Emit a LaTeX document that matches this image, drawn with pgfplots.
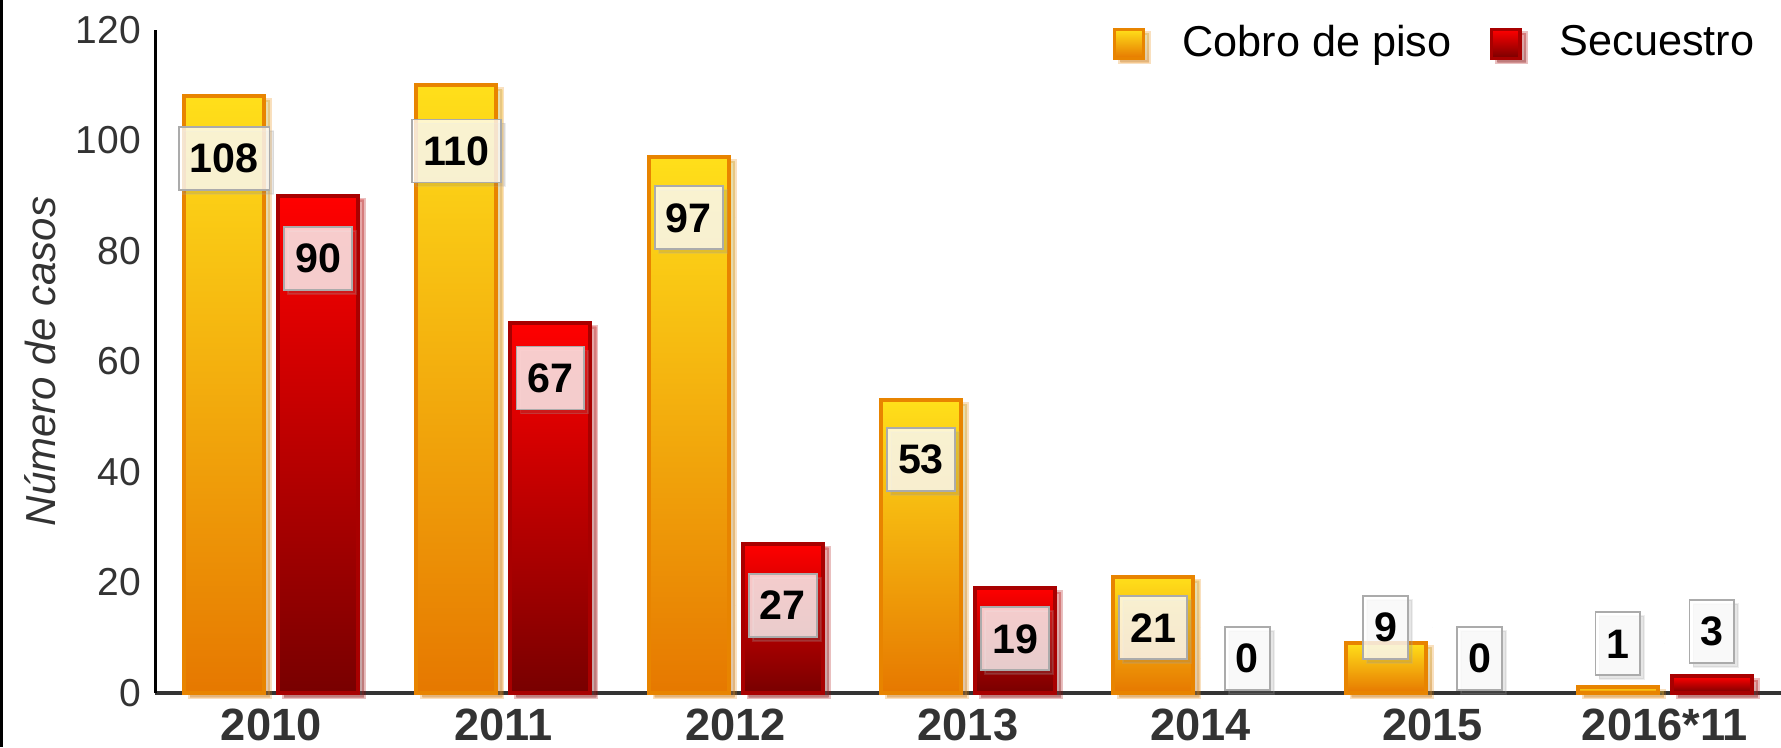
\documentclass[border=0pt]{standalone}
\usepackage{fontspec}
\setmainfont{Liberation Sans}
\usepackage{pgfplots}
\usepackage{pgfplotstable}
\pgfplotsset{compat=1.18}
\usetikzlibrary{shadows}

\definecolor{txtgray}{HTML}{333333}
\definecolor{orTop}{HTML}{FFDF1A}
\definecolor{orBot}{HTML}{E67800}
\definecolor{orLine}{HTML}{E88400}
\definecolor{rdTop}{HTML}{FF0000}
\definecolor{rdBot}{HTML}{780000}
\definecolor{rdLine}{HTML}{A80000}
\definecolor{boxLine}{HTML}{ABABAB}

% casos por año; ly = altura de la etiqueta
\pgfplotstableread{
x cobro lycobro secuestro lysecuestro
0 108   96.8    90        78.7
1 110   98.1    67        57.0
2 97    86.0    27        15.9
3 53    42.2    19        9.8
4 21    11.8    0         6.2
5 9     11.8    0         6.2
6 1     8.9     3         11.2
}\casos

\tikzset{
  lbl/.style={anchor=center, draw=boxLine, line width=0.45pt,
    fill=white, fill opacity=0.78, text opacity=1, text=black,
    font=\fontsize{10.3}{12}\selectfont\bfseries,
    inner xsep=2.75pt, inner ysep=0pt, minimum height=15.75pt,
    drop shadow={shadow xshift=1pt, shadow yshift=-1pt, opacity=0.2, fill=gray}},
  barshadow/.style={drop shadow={shadow xshift=1.5pt, shadow yshift=-1pt, opacity=0.25, fill=gray}}
}
\pgfplotsset{
  cobrobar/.style={ybar, bar width=20pt, bar shift=-11.75pt, draw=orLine, line width=1pt,
    top color=orTop, bottom color=orBot, barshadow},
  secbar/.style={ybar, bar width=20pt, bar shift=11.75pt, draw=rdLine, line width=1pt,
    top color=rdTop, bottom color=rdBot, barshadow,
    y filter/.expression={y==0 ? nan : y}},
  boxes/.style={forget plot, only marks, mark=*, mark size=0pt,
    mark options={draw=none, fill=none},
    point meta=explicit symbolic, nodes near coords}
}

\begin{document}
\begin{tikzpicture}
\begin{axis}[
  name=ax,
  scale only axis,
  width=406.5pt, height=165.75pt,
  xmin=-0.5, xmax=6.5, ymin=0, ymax=120,
  axis x line=bottom, axis y line=left,
  axis line style={-},
  x axis line style={draw=txtgray, line width=1pt},
  y axis line style={draw=black, line width=0.75pt},
  xtick={0,...,6},
  xticklabels={2010,2011,2012,2013,2014,2015,2016*11},
  ytick={0,20,...,120},
  major tick length=0pt,
  xticklabel style={font=\fontsize{11.3}{13}\selectfont\bfseries, text=txtgray, yshift=-0.4pt},
  yticklabel style={font=\fontsize{9.75}{11}\selectfont, text=txtgray},
  /pgf/number format/assume math mode=true,
  ylabel={Número de casos},
  ylabel style={font=\fontsize{10.5}{12}\selectfont\itshape, text=txtgray,
    at={(axis description cs:-0.0707,0.5)}, anchor=center},
  legend columns=2,
  legend style={draw=none, fill=none, at={(1,1)}, anchor=north east,
    xshift=-4.5pt, yshift=3.4pt, inner sep=0pt,
    font=\fontsize{10.8}{12}\selectfont, text=black,
    /tikz/every odd column/.append style={column sep=7.5pt},
    /tikz/every even column/.append style={column sep=7.5pt}},
  legend image code/.code={\draw[#1, line width=0.8pt] (0pt,-3.6pt) rectangle (7.2pt,3.6pt);},
  clip=false,
]

% Cobro de piso: one bar per plot so each bar gets its own gradient
\addplot[cobrobar, restrict x to domain=0:0] table[x=x, y=cobro] {\casos};
\addlegendentry{Cobro de piso}
\pgfplotsinvokeforeach{1,...,6}{
  \addplot[cobrobar, forget plot, restrict x to domain=#1:#1] table[x=x, y=cobro] {\casos};
}

% Secuestro
\addplot[secbar, restrict x to domain=0:0] table[x=x, y=secuestro] {\casos};
\addlegendentry{Secuestro}
\pgfplotsinvokeforeach{1,...,6}{
  \addplot[secbar, forget plot, restrict x to domain=#1:#1] table[x=x, y=secuestro] {\casos};
}

% value boxes
\addplot[boxes, nodes near coords style={lbl, xshift=-11.75pt}]
  table[x=x, y=lycobro, meta=cobro] {\casos};
\addplot[boxes, nodes near coords style={lbl, xshift=11.75pt}]
  table[x=x, y=lysecuestro, meta=secuestro] {\casos};

\end{axis}
\pgfresetboundingbox
\useasboundingbox ([xshift=-38.75pt, yshift=-13.5pt]ax.south west) rectangle ([yshift=7.5pt]ax.north east);
\fill[black] ([xshift=-38.75pt, yshift=-13.5pt]ax.south west) rectangle ([xshift=-38.05pt, yshift=7.5pt]ax.north west);
\end{tikzpicture}
\end{document}
